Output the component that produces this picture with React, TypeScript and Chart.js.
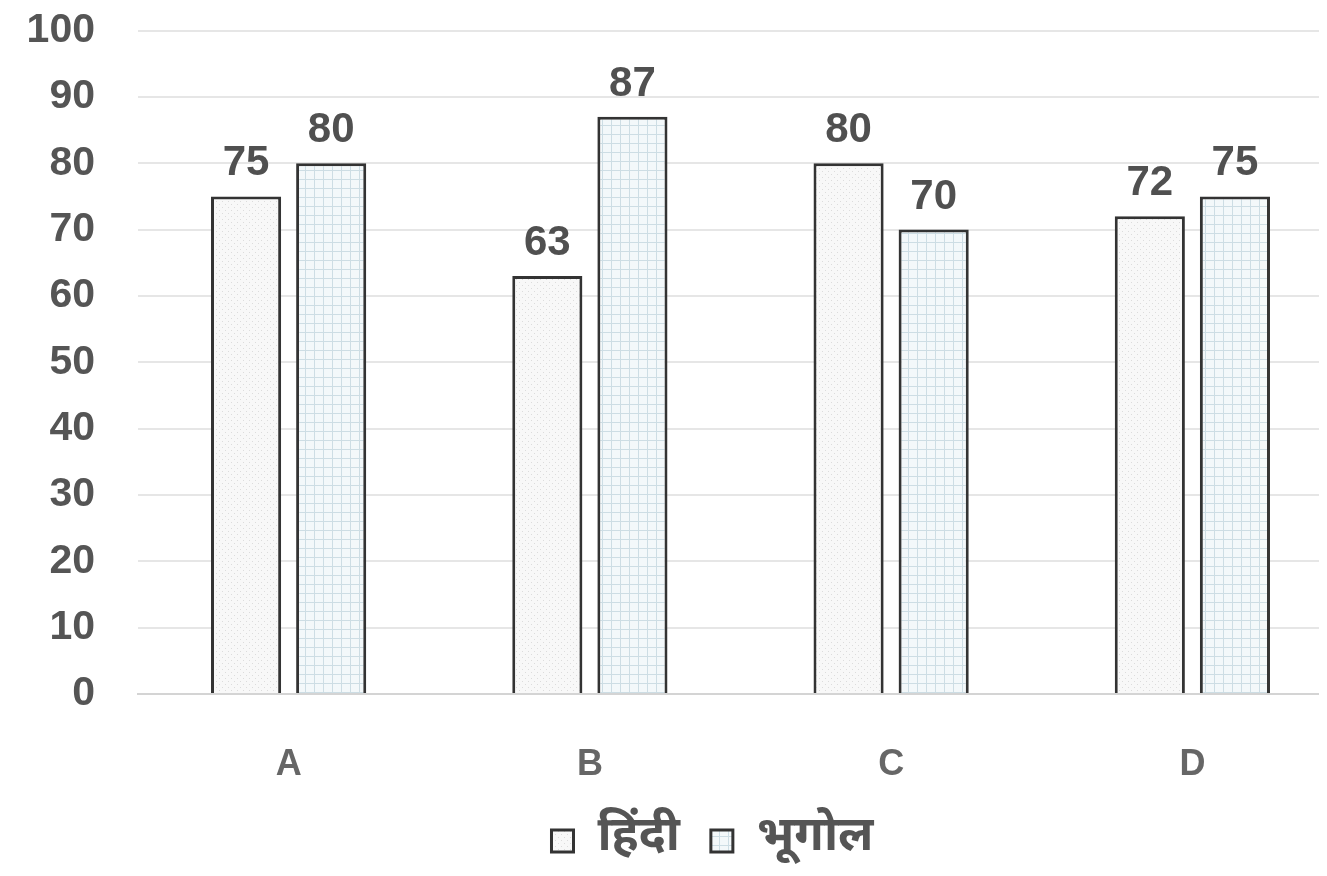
import React, { useEffect, useRef } from "react";
import { Chart, registerables } from "chart.js";

Chart.register(...registerables);

const categories = ["A", "B", "C", "D"];
const hindiValues = [75, 63, 80, 72];
const geographyValues = [80, 87, 70, 75];
const seriesNames = ["हिंदी", "भूगोल"];
const yTicks = [0, 10, 20, 30, 40, 50, 60, 70, 80, 90, 100];

const NUM_FONT = "'Liberation Sans', Arial, sans-serif";
const HINDI_FONT = "'Noto Sans Devanagari', 'Lohit Devanagari', 'Noto Sans', 'FreeSans', sans-serif";

function makeDotPattern(): CanvasPattern | string {
  const c = document.createElement("canvas");
  c.width = 6;
  c.height = 6;
  const g = c.getContext("2d");
  if (!g) return "#f6f6f6";
  g.fillStyle = "#f8f8f8";
  g.fillRect(0, 0, 6, 6);
  g.fillStyle = "#dcdcdc";
  g.fillRect(1, 1, 1, 1);
  g.fillRect(4, 4, 1, 1);
  return g.createPattern(c, "repeat") || "#f6f6f6";
}

function makeGridPattern(): CanvasPattern | string {
  const c = document.createElement("canvas");
  c.width = 9;
  c.height = 9;
  const g = c.getContext("2d");
  if (!g) return "#eef5f8";
  g.fillStyle = "#f3f8fa";
  g.fillRect(0, 0, 9, 9);
  g.fillStyle = "#cddde4";
  g.fillRect(0, 0, 9, 1);
  g.fillRect(0, 0, 1, 9);
  return g.createPattern(c, "repeat") || "#eef5f8";
}

const valueLabelPlugin = {
  id: "valueLabels",
  afterDatasetsDraw(chart: any) {
    const ctx = chart.ctx;
    ctx.save();
    ctx.font = `bold 42px ${NUM_FONT}`;
    ctx.fillStyle = "#505050";
    ctx.textAlign = "center";
    ctx.textBaseline = "alphabetic";
    chart.data.datasets.forEach((ds: any, i: number) => {
      const meta = chart.getDatasetMeta(i);
      meta.data.forEach((el: any, j: number) => {
        ctx.fillText(String(ds.data[j]), el.x, el.y - 21);
      });
    });
    ctx.restore();
  },
};

const legendShiftPlugin = {
  id: "legendShift",
  afterLayout(chart: any) {
    const lg = chart.legend;
    if (lg) {
      lg.left += 37;
      lg.right += 37;
    }
  },
};

export default function App() {
  const ref = useRef<HTMLCanvasElement | null>(null);

  useEffect(() => {
    if (!ref.current) return;
    const dotPattern = makeDotPattern();
    const gridPattern = makeGridPattern();
    const chart = new Chart(ref.current, {
      type: "bar",
      data: {
        labels: categories,
        datasets: [
          {
            label: seriesNames[0],
            data: hindiValues,
            backgroundColor: dotPattern as any,
            borderColor: "#333333",
            borderWidth: 3,
            categoryPercentage: 0.565,
            barPercentage: 0.824,
          },
          {
            label: seriesNames[1],
            data: geographyValues,
            backgroundColor: gridPattern as any,
            borderColor: "#333333",
            borderWidth: 3,
            categoryPercentage: 0.565,
            barPercentage: 0.824,
          },
        ],
      },
      options: {
        responsive: false,
        animation: false,
        layout: { padding: { left: 0, right: 5, top: 0, bottom: 0 } },
        plugins: {
          tooltip: { enabled: false },
          legend: {
            position: "bottom",
            labels: {
              boxWidth: 22,
              boxHeight: 22,
              padding: 31,
              color: "#555555",
              font: { family: HINDI_FONT, size: 48, weight: "bold" },
            },
          },
        },
        scales: {
          x: {
            grid: { display: false },
            border: { display: true, color: "#d4d4d4", width: 2 },
            ticks: {
              color: "#666666",
              font: { family: NUM_FONT, size: 36, weight: "bold" },
              padding: 41,
            },
            afterFit(scale: any) {
              scale.height = 92;
            },
          },
          y: {
            min: 0,
            max: 100,
            afterBuildTicks(axis: any) {
              axis.ticks = yTicks.map((v) => ({ value: v }));
            },
            afterFit(scale: any) {
              scale.width = 130;
            },
            grid: { color: "#e6e6e6", lineWidth: 2, drawTicks: false },
            border: { display: false },
            ticks: {
              color: "#555555",
              font: { family: NUM_FONT, size: 41, weight: "bold" },
              padding: 43,
            },
          },
        },
      },
      plugins: [valueLabelPlugin, legendShiftPlugin],
    });
    return () => chart.destroy();
  }, []);

  return (
    <div style={{ width: 1319, height: 866, overflow: "hidden", position: "relative" }}>
      <canvas ref={ref} width={1340} height={912} style={{ display: "block", marginTop: -45 }} />
    </div>
  );
}
